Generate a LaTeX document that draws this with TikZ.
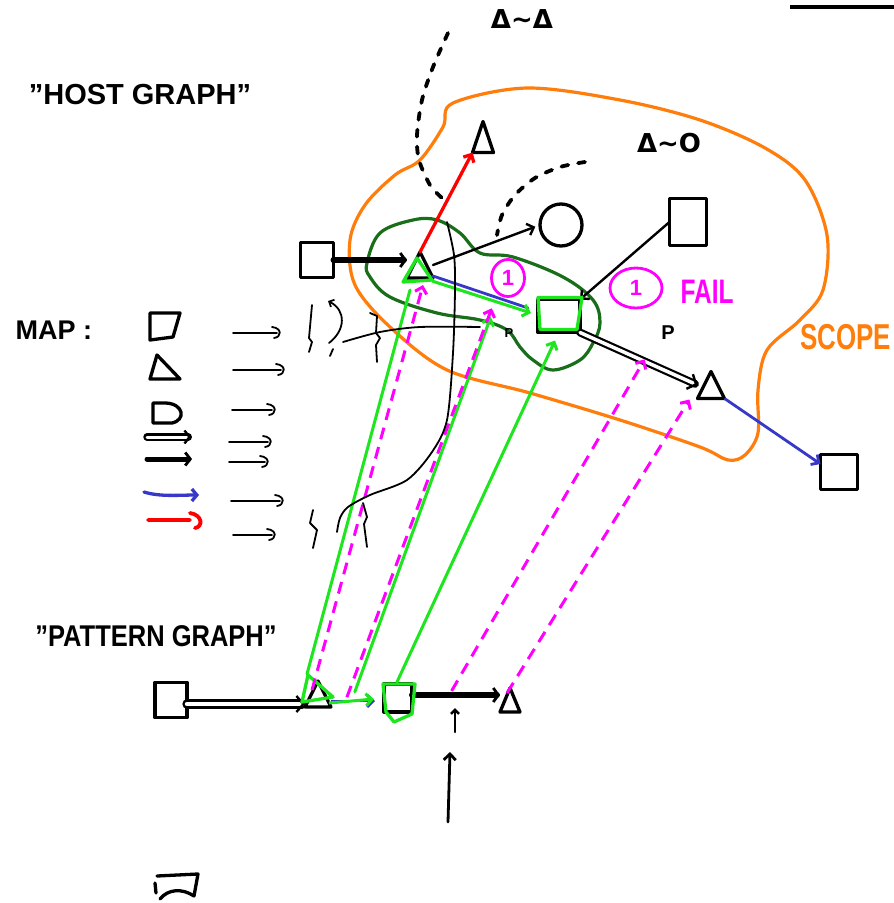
\documentclass[tikz,border=0pt]{standalone}
\usepackage{fontspec}
\usepackage{graphicx}
\setmainfont{Liberation Sans}
\newfontfamily\dvs{DejaVu Sans}
\usetikzlibrary{arrows.meta,calc,shapes.geometric}
\definecolor{cLime}{RGB}{30,230,30}
\definecolor{cDark}{RGB}{25,110,25}
\definecolor{cOrange}{RGB}{255,125,10}
\definecolor{cMag}{RGB}{255,0,255}
\definecolor{cBlue}{RGB}{55,55,200}
\definecolor{cRed}{RGB}{255,0,0}
\newcommand\trinode[6]{%
  \node[box,minimum width=#4pt,minimum height=#5pt] (#1) at (#2,#3) {};
  \draw[#6] (#1.south west) -- (#1.north) -- (#1.south east) -- cycle;}
\begin{document}
\begin{tikzpicture}[x=1pt,y=-1pt,
  ink/.style={line width=3.3pt,line cap=round,line join=round},
  thinink/.style={line width=1.8pt,line cap=round,line join=round},
  box/.style={inner sep=0pt,outer sep=0pt},
  sq/.style={draw,ink,box},
  barb/.style={-{Straight Barb[length=6pt,width=12pt]}},
  maparrow/.style={cLime,line width=3pt,line cap=round},
  mapdash/.style={cMag,line width=3pt,dash pattern=on 12pt off 8pt},
  dotarc/.style={line width=3.8pt,dash pattern=on 7pt off 10pt,line cap=round},
  hand/.style={font=\bfseries\fontsize{#1}{#1}\selectfont},
]
\fill[white] (0,0) rectangle (894,903);
\useasboundingbox (0,0) rectangle (894,903);

% scope blob and match blob
\draw[cOrange,line width=3.2pt] plot[smooth cycle,tension=0.55] coordinates {(453,103) (527,88) (620,100) (700,120) (765,148) (805,180) (827,235) (823,290) (800,320) (767,350) (758,390) (758,433) (745,455) (728,460) (700,447) (620,420) (530,393) (447,370) (390,327) (355,285) (350,240) (365,205) (395,175) (420,160) (443,127)};
\draw[cDark,line width=3.2pt] plot[smooth cycle,tension=0.6] coordinates {(367,263) (380,233) (413,220) (437,220) (460,233) (480,253) (513,257) (563,277) (593,300) (600,323) (593,343) (580,360) (553,370) (533,360) (520,347) (507,330) (480,320) (437,313) (390,297) (370,277)};

% labels
\node[hand=29] (thost) at (140,95) {"HOST GRAPH"};
\node[hand=27,anchor=west] (tmap) at (12,330) {MAP :};
\node[hand=30] (tpat) at (156,636) {\scalebox{0.85}[1]{"PATTERN GRAPH"}};
\node[hand=36,text=cOrange,anchor=west] (tscope) at (797,337) {\scalebox{0.72}[1]{SCOPE}};
\node[hand=34,text=cMag,anchor=west] (tfail) at (677,292) {\scalebox{0.72}[1]{FAIL}};
\node[font=\dvs\bfseries\fontsize{26}{26}\selectfont] (tdd) at (522,19) {Δ\textasciitilde Δ};
\node[font=\dvs\bfseries\fontsize{26}{26}\selectfont] (tdo) at (669,143) {Δ\textasciitilde O};
\node[hand=20] (lp1) at (668,333) {P};
\node[hand=13] (lp2) at (509,333) {P};
\node[draw=cMag,ellipse,line width=2.8pt,minimum width=33pt,minimum height=37pt,box,text=cMag,hand=22] (c1) at (508,278) {1};
\node[draw=cMag,ellipse,line width=2.8pt,minimum width=52pt,minimum height=40pt,box,text=cMag,hand=22] (c2) at (636,288) {1};

% dotted arcs
\draw[dotarc] plot[smooth] coordinates {(448,33) (433,67) (422,100) (417,135) (419,160) (430,185) (442,198)};
\draw[dotarc] plot[smooth] coordinates {(585,162) (560,167) (535,178) (515,195) (502,215) (497,235)};

% host graph nodes
\node[sq,minimum width=33pt,minimum height=35pt] (h1) at (317,260) {};
\trinode{h2}{420}{265}{26}{26}{ink}
\trinode{h3}{483}{137}{21}{31}{ink}
\node[draw,ink,circle,minimum size=42pt,box] (h4) at (561,225) {};
\node[sq,minimum width=37pt,minimum height=47pt] (h6) at (688,222) {};
\node[sq,minimum width=42pt,minimum height=33pt] (h5) at (559,316) {};
\trinode{h7}{711}{385}{27}{27}{ink}
\node[sq,minimum width=37pt,minimum height=35pt] (h8) at (839,472) {};

% host edges
\draw[ink,line width=6pt,-{Straight Barb[length=5pt,width=14pt,line width=2.8pt]}] (h1.east) -- (h1.east -| h2.west);
\draw[cRed,ink,barb] (h2.north) -- (h3.south west);
\draw[ink,line width=2.4pt,barb,shorten >=5pt] (h2.east) -- (h4.west);
\draw[cBlue,line width=2.8pt,line cap=round] ($(h2.south east)+(0,-2)$) -- ($(h5.west)+(-10,-8)$);
\draw[ink,line width=2.4pt,barb] (h6.west) -- (h5.north east);
\draw[ink,line width=2.2pt,double,double distance=3.5pt,-{Straight Barb[length=7pt,width=16pt,line width=2.4pt]}] (h5.south east) -- (h7.west);
\draw[cBlue,line width=2.8pt,barb] (h7.south east) -- ([yshift=8pt]h8.west);

% green match overlays in host
\draw[cLime,ink] ($(h2.north)+(-3,6)$) -- ($(h2.south east)+(-1,2)$) -- ($(h2.south west)+(-4,4)$) -- cycle;
\draw[cLime,line width=3pt,barb] ($(h2.south east)+(-1,3)$) -- ($(h5.west)+(-7,-3)$);
\draw[cLime,ink] ($(h5.north west)+(0,-2)$) -- ($(h5.north east)+(2,-2)$) -- ($(h5.south east)+(-3,-3)$) -- ($(h5.south west)+(2,-3)$) -- cycle;

% pattern graph
\node[sq,minimum width=32pt,minimum height=35pt] (p1) at (171,700) {};
\trinode{p2}{318}{694}{26}{26}{ink}
\node[sq,minimum width=28pt,minimum height=28pt] (p3) at (398,698) {};
\trinode{p4}{510}{700}{20}{24}{ink}
\draw[ink,line width=2.4pt,double,double distance=4.5pt,-{Straight Barb[length=7pt,width=16pt,line width=2.4pt]}] ([yshift=-4pt]p1.east) -- ([yshift=-4pt]p1.east -| p2.west);
\draw[cBlue,line width=2.8pt,barb,shorten >=9pt] ([yshift=-7pt]p2.east) -- ([yshift=-7pt]p2.east -| p3.west);
\draw[ink,line width=6pt,-{Straight Barb[length=5pt,width=14pt,line width=2.8pt]}] ([yshift=3pt]p3.east) -- ([yshift=3pt]p3.east -| p4.west);
\draw[cLime,ink] ($(p2.north)+(-10,-6)$) -- ($(p2.east)+(2,3)$) -- ($(p2.south west)+(-3,-5)$) -- cycle;
\draw[cLime,ink] ($(p3.north west)+(-1,0)$) -- ($(p3.north east)+(3,0)$) -- ($(p3.south east)+(0,2)$) -- ($(p3.south)+(-4,10)$) -- ($(p3.south west)+(2,0)$) -- cycle;
\draw[cLime,line width=3pt,barb] ($(p2.east)+(-2,9)$) -- ($(p3.west)+(-10,1)$);

% mapping lines
\draw[maparrow] ($(p2.north)+(-11,-7)$) -- ($(h2.south)+(-10,12)$);
\draw[maparrow,barb] ($(p2.east)!0.45!(p3.west)+(0,-4)$) -- ($(h2.south east)!0.55!(h5.west)+(0,18)$);
\draw[maparrow,barb] ($(p3.north)+(-1,-2)$) -- ($(h5.south)+(-4,8)$);
\draw[mapdash,barb] ($(p2.center)+(-6,-4)$) -- ($(h2.south)+(3,7)$);
\draw[mapdash,barb] ($(p2.east)!0.3!(p3.west)+(0,2)$) -- ($(h2.south east)!0.56!(h5.west)+(0,9)$);
\draw[mapdash,barb] ($(p3.east)!0.45!(p4.west)+(0,-8)$) -- ($(h5.south east)!0.55!(h7.west)+(0,-2)$);
\draw[mapdash,barb] ($(p4.north)+(-3,5)$) -- ($(h7.south west)+(-8,1)$);

% arrows under pattern
\coordinate (ta) at (455,732);
\coordinate (tb) at (455,708);
\draw[ink,line width=2.6pt,-{Straight Barb[length=4pt,width=8pt]}] (ta) -- (tb);
\coordinate (la) at (448,822);
\coordinate (lb) at (450,752);
\draw[ink,line width=2.8pt,barb] (la) -- (lb);

% lone square bottom
\node[box,minimum width=42pt,minimum height=25pt] (lonesq) at (176,886) {};
\draw[ink] (157,876) -- (198,874) -- (194,896) .. controls (182,888) and (168,889) .. (160,899) (155,883) -- (156,893);

% top-right line
\draw[line width=3.8pt] (790,7) -- (894,7);

% legend
\draw[ink] (150,313) -- (180,313) -- (173,337) -- (150,340) -- cycle;
\draw[ink] (157,355) -- (180,379) -- (150,379) -- cycle;
\draw[ink] (153,403) -- (153,423) -- (172,423) .. controls (186,420) and (184,404) .. (166,403) -- cycle;
\draw[ink,line width=2.2pt,double,double distance=3pt,-{Straight Barb[length=5pt,width=13pt,line width=2.4pt]}] (147,437) -- (191,437);
\draw[ink,line width=5pt,-{Straight Barb[length=5pt,width=13pt,line width=2.8pt]}] (147,459) -- (192,459);
\draw[cBlue,ink,-{Straight Barb[length=5pt,width=12pt]}] (144,492) .. controls (160,497) and (180,495) .. (199,495);
\draw[cRed,line width=3.8pt,line cap=round] (148,520) -- (190,520) (190,513) .. controls (203,515) and (203,527) .. (195,528);
\foreach \y/\a/\b in {333/233/277,370/233/281,410/232/272,442/229/268,462/229/265,501/231/280,535/233/272}{
  \draw[thinink] (\a,\y) -- (\b,\y) ({\b-5},{\y-6}) .. controls ({\b+5},{\y-5}) and ({\b+5},{\y+4}) .. ({\b-3},{\y+5});
}

% scribbles
\draw[thinink] (312,305) -- (309,338) -- (312,342) -- (309,352);
\draw[thinink,-{Straight Barb[length=4pt,width=8pt]}] (329,343) .. controls (346,330) and (346,310) .. (328,301);
\draw[thinink] (333,349) -- (330,356);
\draw[thinink] plot[smooth] coordinates {(343,342) (380,332) (420,327) (480,327)};
\draw[thinink] (370,313) -- (377,316) -- (376,333) -- (380,338) -- (376,345) -- (377,362);
\draw[thinink] (313,510) -- (310,523) -- (317,530) -- (313,548);
\draw[thinink] (363,503) -- (367,517) -- (364,524) -- (367,547);
\draw[thinink] plot[smooth] coordinates {(447,222) (454,255) (455,290) (453,353) (447,420) (432,452) (407,480) (370,495) (348,507) (340,518) (337,532)};
\end{tikzpicture}
\end{document}
